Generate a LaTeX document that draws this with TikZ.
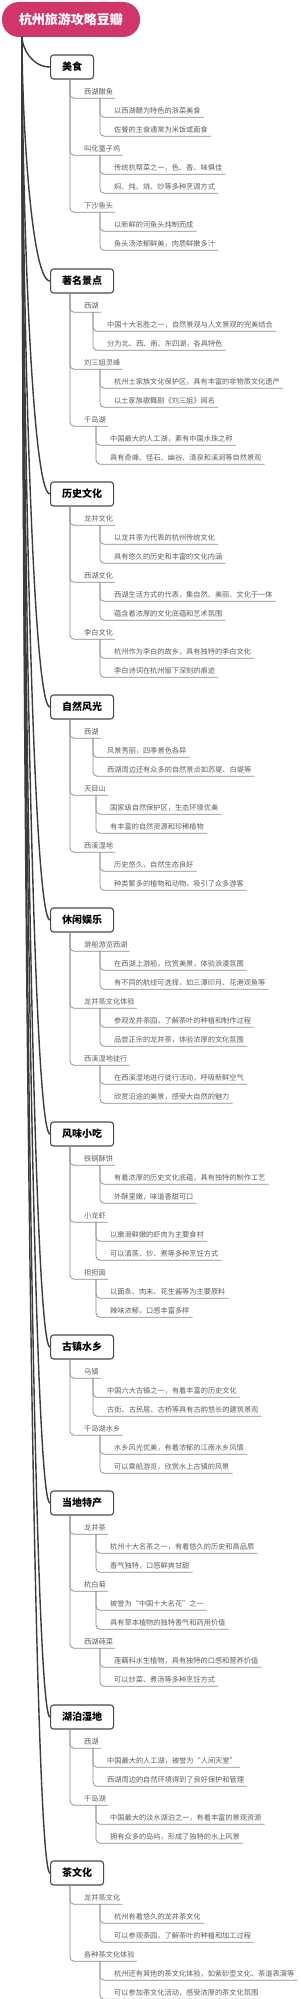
\documentclass[tikz,border=0pt]{standalone}
\usepackage{fontspec}
\newfontfamily\cjk{Noto Sans CJK SC}
\definecolor{rootpink}{RGB}{208,54,106}
\definecolor{spinecol}{RGB}{60,60,60}
\definecolor{conncol}{RGB}{140,140,140}
\definecolor{txtgray}{RGB}{95,95,95}
\definecolor{boxborder}{RGB}{75,75,75}
\newcommand\MTopic[3]{%
  \node[topic] (#1) at (50,#2) {#3};
  \draw[spine] (rs) .. controls (22,{37+(#2-37)/3}) and (31.3,#2) .. (#1.west);
}
\newcommand\MSub[4]{%
  \node[subtxt] (#1) at (82,#3) {#4};
  \draw[conn] (#2.south west) ++(20,0) |- (#1.south east);
}
\newcommand\MLeaf[5]{%
  \node[leaftxt] (#1) at ({82+#3+11},#4) {#5};
  \draw[conn] (#2.south west) ++(#3,0) |- (#1.south east);
}
\begin{document}
\begin{tikzpicture}[x=1pt,y=-1pt,
  rootbox/.style={fill=rootpink, rounded corners=17pt, minimum width=138pt, minimum height=35pt, inner sep=0pt, text=white, font=\cjk\bfseries\fontsize{13}{15}\selectfont},
  topic/.style={draw=boxborder, line width=1.1pt, fill=white, rounded corners=3pt, minimum height=24pt, inner xsep=11.5pt, inner ysep=0pt, text=black, font=\cjk\bfseries\fontsize{10}{12}\selectfont, anchor=west},
  subtxt/.style={anchor=west, inner xsep=2pt, inner ysep=2.5pt, text height=6pt, text depth=1pt, text=txtgray, font=\cjk\fontsize{7.2}{8}\selectfont},
  leaftxt/.style={subtxt, inner xsep=3pt},
  conn/.style={draw=conncol, line width=0.75pt, rounded corners=4pt},
  spine/.style={draw=spinecol, line width=1.4pt},
]
\useasboundingbox (0,0) rectangle (300,1999);
\fill[white] (0,0) rectangle (300,1999);
\node[rootbox] (root) at (71,19.5) {杭州旅游攻略豆瓣};
\coordinate (rs) at (22,37);

\MTopic{t1}{67}{美食}
\MSub{s11}{t1}{92}{西湖醋鱼}
\MLeaf{l111}{s11}{18}{111}{以西湖醋为特色的浙菜美食}
\MLeaf{l112}{s11}{18}{130}{佐餐的主食通常为米饭或面食}
\MSub{s12}{t1}{149}{叫化童子鸡}
\MLeaf{l121}{s12}{18}{168}{传统杭帮菜之一，色、香、味俱佳}
\MLeaf{l122}{s12}{18}{187}{焖、炖、烧、炒等多种烹调方式}
\MSub{s13}{t1}{206}{下沙鱼头}
\MLeaf{l131}{s13}{18}{225}{以新鲜的河鱼头炖制而成}
\MLeaf{l132}{s13}{18}{244}{鱼头汤浓郁鲜美，肉质鲜嫩多汁}

\MTopic{t2}{281}{著名景点}
\MSub{s21}{t2}{306}{西湖}
\MLeaf{l211}{s21}{11}{325}{中国十大名胜之一，自然景观与人文景观的完美结合}
\MLeaf{l212}{s21}{11}{344}{分为北、西、南、东四湖，各具特色}
\MSub{s22}{t2}{363}{刘三姐灵峰}
\MLeaf{l221}{s22}{18}{382}{杭州土家族文化保护区，具有丰富的非物质文化遗产}
\MLeaf{l222}{s22}{18}{401}{以土家族歌舞剧《刘三姐》闻名}
\MSub{s23}{t2}{420}{千岛湖}
\MLeaf{l231}{s23}{14}{439}{中国最大的人工湖，素有中国水珠之称}
\MLeaf{l232}{s23}{14}{458}{具有奇峰、怪石、幽谷、清泉和溪涧等自然景观}

\MTopic{t3}{494}{历史文化}
\MSub{s31}{t3}{519}{龙井文化}
\MLeaf{l311}{s31}{18}{538}{以龙井茶为代表的杭州传统文化}
\MLeaf{l312}{s31}{18}{557}{具有悠久的历史和丰富的文化内涵}
\MSub{s32}{t3}{576}{西湖文化}
\MLeaf{l321}{s32}{18}{595}{西湖生活方式的代表，集自然、美丽、文化于一体}
\MLeaf{l322}{s32}{18}{614}{蕴含着浓厚的文化底蕴和艺术氛围}
\MSub{s33}{t3}{633}{李白文化}
\MLeaf{l331}{s33}{18}{652}{杭州作为李白的故乡，具有独特的李白文化}
\MLeaf{l332}{s33}{18}{671}{李白诗词在杭州留下深刻的痕迹}

\MTopic{t4}{707}{自然风光}
\MSub{s41}{t4}{732}{西湖}
\MLeaf{l411}{s41}{11}{751}{风景秀丽，四季景色各异}
\MLeaf{l412}{s41}{11}{770}{西湖周边还有众多的自然景点如苏堤、白堤等}
\MSub{s42}{t4}{789}{天目山}
\MLeaf{l421}{s42}{14}{808}{国家级自然保护区，生态环境优美}
\MLeaf{l422}{s42}{14}{827}{有丰富的自然资源和珍稀植物}
\MSub{s43}{t4}{846}{西溪湿地}
\MLeaf{l431}{s43}{18}{865}{历史悠久，自然生态良好}
\MLeaf{l432}{s43}{18}{884}{种类繁多的植物和动物，吸引了众多游客}

\MTopic{t5}{920}{休闲娱乐}
\MSub{s51}{t5}{945}{游船游览西湖}
\MLeaf{l511}{s51}{18}{964}{在西湖上游船，欣赏美景，体验浪漫氛围}
\MLeaf{l512}{s51}{18}{983}{有不同的航线可选择，如三潭印月、花港观鱼等}
\MSub{s52}{t5}{1002}{龙井茶文化体验}
\MLeaf{l521}{s52}{18}{1021}{参观龙井茶园，了解茶叶的种植和制作过程}
\MLeaf{l522}{s52}{18}{1040}{品尝正宗的龙井茶，体验浓厚的文化氛围}
\MSub{s53}{t5}{1059}{西溪湿地徒行}
\MLeaf{l531}{s53}{18}{1078}{在西溪湿地进行徒行活动，呼吸新鲜空气}
\MLeaf{l532}{s53}{18}{1097}{欣赏沿途的美景，感受大自然的魅力}

\MTopic{t6}{1134}{风味小吃}
\MSub{s61}{t6}{1159}{铁锅酥饼}
\MLeaf{l611}{s61}{18}{1178}{有着浓厚的历史文化底蕴，具有独特的制作工艺}
\MLeaf{l612}{s61}{18}{1197}{外酥里嫩，味道香甜可口}
\MSub{s62}{t6}{1216}{小龙虾}
\MLeaf{l621}{s62}{14}{1235}{以嫩滑鲜嫩的虾肉为主要食材}
\MLeaf{l622}{s62}{14}{1254}{可以清蒸、炒、煮等多种烹饪方式}
\MSub{s63}{t6}{1273}{担担面}
\MLeaf{l631}{s63}{14}{1292}{以面条、肉末、花生酱等为主要原料}
\MLeaf{l632}{s63}{14}{1311}{辣味浓郁，口感丰富多样}

\MTopic{t7}{1347}{古镇水乡}
\MSub{s71}{t7}{1372}{乌镇}
\MLeaf{l711}{s71}{11}{1391}{中国六大古镇之一，有着丰富的历史文化}
\MLeaf{l712}{s71}{11}{1410}{古街、古民居、古桥等具有古韵悠长的建筑景观}
\MSub{s72}{t7}{1429}{千岛湖水乡}
\MLeaf{l721}{s72}{18}{1448}{水乡风光优美，有着浓郁的江南水乡风情}
\MLeaf{l722}{s72}{18}{1467}{可以乘船游览，欣赏水上古镇的风景}

\MTopic{t8}{1503}{当地特产}
\MSub{s81}{t8}{1528}{龙井茶}
\MLeaf{l811}{s81}{14}{1547}{杭州十大名茶之一，有着悠久的历史和高品质}
\MLeaf{l812}{s81}{14}{1566}{香气独特，口感鲜爽甘甜}
\MSub{s82}{t8}{1585}{杭白菊}
\MLeaf{l821}{s82}{14}{1604}{被誉为“中国十大名花”之一}
\MLeaf{l822}{s82}{14}{1623}{具有草本植物的独特香气和药用价值}
\MSub{s83}{t8}{1642}{西湖莼菜}
\MLeaf{l831}{s83}{18}{1661}{莲藕科水生植物，具有独特的口感和营养价值}
\MLeaf{l832}{s83}{18}{1680}{可以炒菜、煮汤等多种烹饪方式}

\MTopic{t9}{1717}{湖泊湿地}
\MSub{s91}{t9}{1742}{西湖}
\MLeaf{l911}{s91}{11}{1761}{中国最大的人工湖，被誉为“人间天堂”}
\MLeaf{l912}{s91}{11}{1780}{西湖周边的自然环境得到了良好保护和管理}
\MSub{s92}{t9}{1799}{千岛湖}
\MLeaf{l921}{s92}{14}{1818}{中国最大的淡水湖泊之一，有着丰富的景观资源}
\MLeaf{l922}{s92}{14}{1837}{拥有众多的岛屿，形成了独特的水上风景}

\MTopic{t10}{1873}{茶文化}
\MSub{s101}{t10}{1898}{龙井茶文化}
\MLeaf{l1011}{s101}{18}{1917}{杭州有着悠久的龙井茶文化}
\MLeaf{l1012}{s101}{18}{1936}{可以参观茶园，了解茶叶的种植和加工过程}
\MSub{s102}{t10}{1955}{各种茶文化体验}
\MLeaf{l1021}{s102}{18}{1974}{杭州还有其他的茶文化体验，如紫砂壶文化、茶道表演等}
\MLeaf{l1022}{s102}{18}{1993}{可以参加茶文化活动，感受浓厚的茶文化氛围}
\end{tikzpicture}
\end{document}
